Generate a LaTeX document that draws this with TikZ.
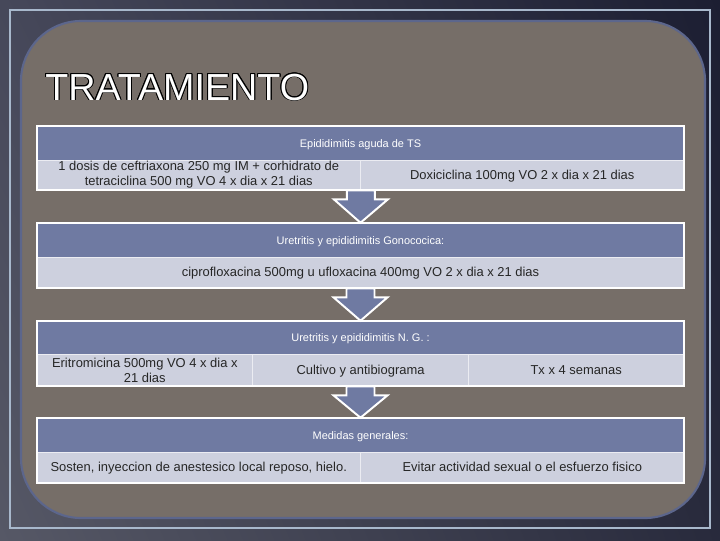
\documentclass[tikz,border=0pt]{standalone}
\usepackage{fontspec}
\setmainfont{Liberation Sans}
\usepackage[copies]{contour}
\usetikzlibrary{calc,shadings}
\definecolor{slate}{RGB}{111,122,162}
\definecolor{pale}{RGB}{205,208,222}
\definecolor{paper}{RGB}{118,110,104}
\definecolor{paperedge}{RGB}{92,102,140}
\definecolor{frameline}{RGB}{168,184,204}
\definecolor{bgtl}{RGB}{70,72,90}
\definecolor{bgtr}{RGB}{28,30,50}
\definecolor{bgbl}{RGB}{86,88,102}
\definecolor{bgbr}{RGB}{40,42,60}
\contourlength{0.7pt}
\tikzset{
  hdr/.style={fill=slate, text=white, font=\fontsize{7.8}{9}\selectfont, inner sep=0pt, text height=1.6ex, text depth=0.4ex},
  cell/.style={fill=pale, draw=pale!40!white, line width=0.5pt, text=black!85, font=\fontsize{9.2}{10.5}\selectfont, inner sep=0pt, align=center},
  oneline/.style={text height=1.6ex, text depth=0.4ex},
  full/.style={minimum width=16.175cm},
  half/.style={minimum width=8.0875cm},
  third/.style={minimum width=5.39cm},
  boxline/.style={draw=white, line width=1.4pt},
  blockarrow/.style={draw=white, line width=1.4pt, fill=slate, line join=miter}
}
\newcommand\flowarrow[2]{\draw[blockarrow] ($(#1)+(-14,0)$) -- ($(#1)+(14,0)$) -- ($(#1)+(14,9)$) -- ($(#1)+(27,9)$) -- (#2) -- ($(#1)+(-27,9)$) -- ($(#1)+(-14,9)$) -- cycle;}
\begin{document}
\begin{tikzpicture}[x=0.025cm,y=-0.025cm]
\shade[upper left=bgtl, upper right=bgtr, lower left=bgbl, lower right=bgbr] (0,0) rectangle (720,540);
\draw[frameline, line width=1.4pt] (10,10) rectangle (710,528);
\draw[paperedge, line width=1.5pt, fill=paper, rounded corners=1.5cm] (21,21) rectangle (705,518);
\node[anchor=base west, inner sep=0pt, font=\fontsize{26.8}{30}\selectfont] (title) at (45,100) {\contour{black}{\textcolor{white}{TRATAMIENTO}}};

\node[hdr, full, minimum height=0.85cm] (h1) at (360.5,143) {Epididimitis aguda de TS};
\node[cell, half, minimum height=0.75cm] (r1a) at (198.75,175) {1 dosis de ceftriaxona 250 mg IM + corhidrato de\\tetraciclina 500 mg VO 4 x dia x 21 dias};
\node[cell, oneline, half, minimum height=0.75cm] (r1b) at (522.25,175) {Doxiciclina 100mg VO 2 x dia x 21 dias};
\draw[boxline] (h1.north west) rectangle (r1b.south east);

\node[hdr, full, minimum height=0.85cm] (h2) at (360.5,240) {Uretritis y epididimitis Gonococica:};
\node[cell, oneline, full, minimum height=0.775cm] (r2) at (360.5,272.5) {ciprofloxacina 500mg u ufloxacina 400mg VO 2 x dia x 21 dias};
\draw[boxline] (h2.north west) rectangle (r2.south east);

\node[hdr, full, minimum height=0.825cm] (h3) at (360.5,337.5) {Uretritis y epididimitis N. G. :};
\node[cell, third, minimum height=0.8cm] (r3a) at (144.8,370) {Eritromicina 500mg VO 4 x dia x\\21 dias};
\node[cell, oneline, third, minimum height=0.8cm] (r3b) at (360.5,370) {Cultivo y antibiograma};
\node[cell, oneline, third, minimum height=0.8cm] (r3c) at (576.2,370) {Tx x 4 semanas};
\draw[boxline] (h3.north west) rectangle (r3c.south east);

\node[hdr, full, minimum height=0.85cm] (h4) at (360.5,435) {Medidas generales:};
\node[cell, oneline, half, minimum height=0.775cm] (r4a) at (198.75,467.5) {Sosten, inyeccion de anestesico local reposo, hielo.};
\node[cell, oneline, half, minimum height=0.775cm] (r4b) at (522.25,467.5) {Evitar actividad sexual o el esfuerzo fisico};
\draw[boxline] (h4.north west) rectangle (r4b.south east);

\flowarrow{r1a.south east}{h2.north}
\flowarrow{r2.south}{h3.north}
\flowarrow{r3b.south}{h4.north}
\end{tikzpicture}
\end{document}
